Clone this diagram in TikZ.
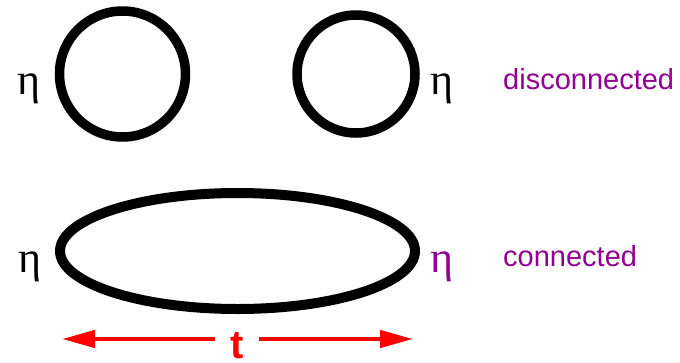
\documentclass[tikz,border=0pt]{standalone}
\usepackage{fontspec}
\setmainfont{Liberation Serif}
\setsansfont{Liberation Sans}
\usetikzlibrary{shapes.geometric,arrows.meta}
\definecolor{lbl}{RGB}{145,0,145}
\definecolor{arr}{RGB}{255,0,0}
\tikzset{
  ring/.style={draw=black, line width=9.5pt, circle, inner sep=0pt},
  oval/.style={draw=black, line width=10pt, ellipse, inner sep=0pt},
  eta/.style={font=\fontsize{44}{44}\selectfont, inner sep=0pt, anchor=base},
  tag/.style={font=\sffamily\fontsize{29}{29}\selectfont, text=lbl, inner sep=0pt, anchor=base west},
  tlabel/.style={font=\sffamily\bfseries\fontsize{40}{40}\selectfont, text=arr, inner sep=0pt, minimum width=44pt, anchor=base},
  span/.style={draw=arr, line width=4.5pt, -{Triangle[length=33pt,width=17pt]}}
}
\begin{document}
\begin{tikzpicture}[x=1pt,y=-1pt]
\useasboundingbox (0,0) rectangle (680,362);
\node[ring, minimum size=126pt] (c1) at (122.5,74) {};
\node[ring, minimum size=118pt] (c2) at (356,74) {};
\node[eta] (e1) at (29.5,94) {η};
\node[eta] (e2) at (442,94) {η};
\node[tag] (dis) at (503,89) {disconnected};
\node[oval, minimum width=355pt, minimum height=116pt] (el) at (237.5,251) {};
\node[eta] (e3) at (30,272) {η};
\node[eta, text=lbl] (e4) at (442,272) {η};
\node[tag] (con) at (503,266) {connected};
\node[tlabel] (t) at (237,358) {t};
\coordinate (lt) at (62,339);
\coordinate (rt) at (413,339);
\draw[span] (t.west |- lt) -- (lt);
\draw[span] (t.east |- rt) -- (rt);
\end{tikzpicture}
\end{document}
